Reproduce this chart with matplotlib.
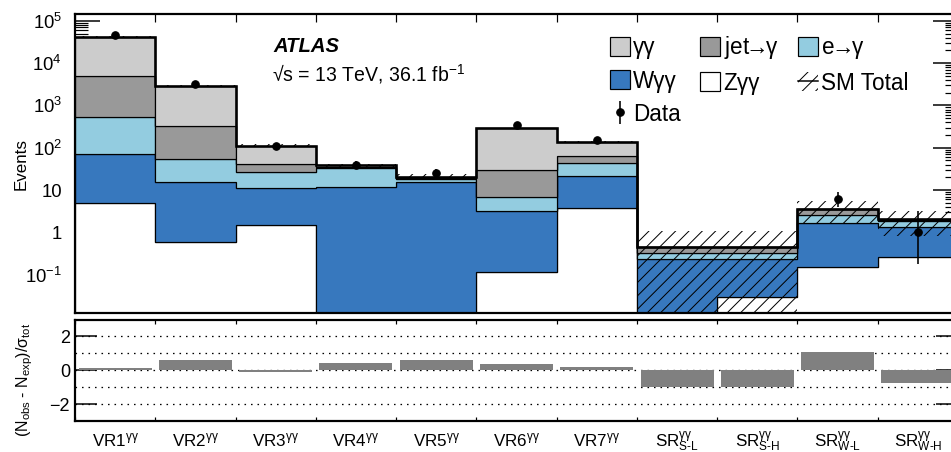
import numpy as np
import matplotlib
matplotlib.use("Agg")
import matplotlib.pyplot as plt
from matplotlib.patches import Patch
from matplotlib.lines import Line2D
from matplotlib.ticker import FixedLocator, FixedFormatter, LogLocator, NullFormatter

DPI = 80


def pt(px):
    # sizes below are measured in pixels on the reference
    return px * 72.0 / DPI


plt.rcParams['font.family'] = ['Liberation Sans', 'DejaVu Sans']
plt.rcParams['mathtext.fontset'] = 'custom'
plt.rcParams['mathtext.rm'] = 'Liberation Sans'
plt.rcParams['mathtext.it'] = 'Liberation Sans:italic'
plt.rcParams['mathtext.bf'] = 'Liberation Sans:bold'
plt.rcParams['hatch.linewidth'] = pt(1.0)

# regions (bins)
regions = ["VR1", "VR2", "VR3", "VR4", "VR5", "VR6", "VR7",
           "SR_S-L", "SR_S-H", "SR_W-L", "SR_W-H"]
region_labels = [r"VR1$^{\mathrm{γγ}}$", r"VR2$^{\mathrm{γγ}}$", r"VR3$^{\mathrm{γγ}}$",
                 r"VR4$^{\mathrm{γγ}}$", r"VR5$^{\mathrm{γγ}}$", r"VR6$^{\mathrm{γγ}}$",
                 r"VR7$^{\mathrm{γγ}}$",
                 r"SR$^{\mathrm{γγ}}_{\mathrm{S\text{-}L}}$", r"SR$^{\mathrm{γγ}}_{\mathrm{S\text{-}H}}$",
                 r"SR$^{\mathrm{γγ}}_{\mathrm{W\text{-}L}}$", r"SR$^{\mathrm{γγ}}_{\mathrm{W\text{-}H}}$"]

# background expectations, stacked bottom -> top
n_zgg = [4.9, 0.6, 1.5, 0.0, 0.0, 0.117, 3.7, 0.0, 0.029, 0.149, 0.26]
n_wgg = [66, 15.1, 9.5, 11.7, 15.2, 3.12, 17.7, 0.24, 0.211, 1.48, 1.10]
n_efake = [454, 38.3, 15, 20.8, 3.4, 3.66, 22.6, 0.08, 0.08, 0.94, 0.51]
n_jetfake = [4425, 272, 15, 2.0, 1.0, 22.7, 19, 0.137, 0.137, 0.93, 0.10]
n_gg = [37050, 2554, 71, 3.5, 1.0, 258, 75, 0.0, 0.0, 0.1, 0.05]
sm_err = [900, 90, 10, 3.5, 3.5, 10, 7, 0.6, 0.6, 2.0, 1.2]

# observed
n_data = [46000, 3200, 110, 40, 24.7, 338, 149, np.nan, np.nan, 6, 1]
data_err_lo = [214, 57, 10, 6.3, 5.0, 18, 12, 0, 0, 2.0, 0.82]
data_err_hi = [215, 58, 11, 7.3, 6.0, 19, 13, 0, 0, 3.1, 2.24]

# (Nobs - Nexp)/sigma_tot
signif = [0.12, 0.59, -0.12, 0.41, 0.63, 0.39, 0.20, -0.98, -0.98, 1.06, -0.76]

c_gg = '#cccccc'
c_jet = '#999999'
c_e = '#93cce0'
c_w = '#3778be'
c_z = 'white'

W, H = 951, 452
fig = plt.figure(figsize=(W / DPI, H / DPI), dpi=DPI)
ax = fig.add_axes([75 / W, 1 - 313 / H, 883 / W, 299 / H])
rax = fig.add_axes([75 / W, 1 - 421 / H, 883 / W, 101.5 / H])

edges = np.arange(len(regions) + 1)
centers = edges[:-1] + 0.5
floor = 1e-4

stack = [(n_zgg, c_z), (n_wgg, c_w), (n_efake, c_e), (n_jetfake, c_jet), (n_gg, c_gg)]
bottom = np.full(len(regions), floor)
for vals, col in stack:
    top = bottom + np.asarray(vals, dtype=float)
    ax.stairs(top, edges, baseline=bottom, fill=True, facecolor=col,
              edgecolor='black', linewidth=pt(1.2), zorder=2)
    bottom = top
total = bottom - floor

err = np.asarray(sm_err)
ax.stairs(total + err, edges, baseline=np.maximum(total - err, floor), fill=True,
          facecolor='none', edgecolor='black', hatch='//', linewidth=0, zorder=3)
ax.stairs(total, edges, baseline=None, color='black', linewidth=pt(2.6), zorder=4)

eb = ax.errorbar(centers, n_data, yerr=[data_err_lo, data_err_hi], fmt='o', color='black',
                 ms=pt(7.5), elinewidth=pt(1.6), capsize=0, zorder=5, label='Data')

ax.set_yscale('log')
ax.set_ylim(0.01236, 1.45e5)
ax.set_xlim(edges[0], edges[-1])
ax.yaxis.set_major_locator(FixedLocator([1e-1, 1, 10, 1e2, 1e3, 1e4, 1e5]))
ax.yaxis.set_major_formatter(FixedFormatter([r'$10^{-1}$', '1', '10', r'$10^{2}$',
                                             r'$10^{3}$', r'$10^{4}$', r'$10^{5}$']))
ax.yaxis.set_minor_locator(LogLocator(base=10, subs=np.arange(2, 10), numticks=30))
ax.yaxis.set_minor_formatter(NullFormatter())
ax.tick_params(axis='y', which='major', direction='in', length=pt(25), width=pt(1.5),
               left=True, right=True, labelsize=pt(18.5), pad=pt(13))
ax.tick_params(axis='y', which='minor', direction='in', length=pt(13), width=pt(1.2),
               left=True, right=True)
ax.set_xticks(edges)
ax.tick_params(axis='x', which='major', direction='in', length=pt(8), width=pt(1.2),
               top=True, bottom=True, labelbottom=False)
ax.set_ylabel('Events', fontsize=pt(17))
ax.yaxis.set_label_coords(-0.0527, 0.5)
for s in ax.spines.values():
    s.set_linewidth(pt(2.2))
    s.set_zorder(6)

ax.text(0.2242, 0.872, 'ATLAS', transform=ax.transAxes, fontsize=pt(20.3),
        fontweight='bold', fontstyle='italic', va='baseline')
ax.text(0.2231, 0.7736, '√s = 13 TeV, 36.1 fb$^{\\mathrm{-1}}$', transform=ax.transAxes,
        fontsize=pt(19.5), va='baseline')

h_gg = Patch(facecolor=c_gg, edgecolor='black', linewidth=pt(1.2))
h_jet = Patch(facecolor=c_jet, edgecolor='black', linewidth=pt(1.2))
h_e = Patch(facecolor=c_e, edgecolor='black', linewidth=pt(1.2))
h_w = Patch(facecolor=c_w, edgecolor='black', linewidth=pt(1.2))
h_z = Patch(facecolor=c_z, edgecolor='black', linewidth=pt(1.2))
h_sm = (Patch(facecolor='white', edgecolor='black', hatch='//', linewidth=0),
        Line2D([], [], color='black', linewidth=pt(1.5)))
handles = [h_gg, h_w, eb, h_jet, h_z, h_e, h_sm]
leg_labels = ['γγ', 'Wγγ', 'Data', r'jet$\!\!\rightarrow\!\!$γ', 'Zγγ',
              r'e$\!\!\rightarrow\!\!$γ', 'SM Total']
fs_leg = 22.5
fig.legend(handles=handles, labels=leg_labels, ncol=3,
           loc='upper left', bbox_to_anchor=(610 / W, 1 - 34 / H), frameon=False,
           fontsize=pt(fs_leg), borderpad=0, borderaxespad=0,
           handlelength=20 / fs_leg, handleheight=21 / fs_leg, handletextpad=0.15,
           columnspacing=0.85, labelspacing=0.47)

# lower panel
for y in [-2, -1, 0, 1, 2]:
    rax.axhline(y, color='black', linestyle=(0, (1.2, 3.8)), linewidth=pt(1.3), zorder=1)
rax.bar(centers, signif, width=0.91, color='#808080', zorder=3)
rax.set_xlim(edges[0], edges[-1])
rax.set_ylim(-3, 3)
rax.set_yticks([-2, 0, 2])
rax.tick_params(axis='y', direction='in', length=pt(22), width=pt(1.5), left=True,
                right=True, labelsize=pt(18), pad=pt(5))
rax.set_xticks(edges)
rax.set_xticklabels([])
rax.set_xticks(centers, minor=True)
rax.set_xticklabels(region_labels, minor=True)
rax.tick_params(axis='x', which='major', direction='in', length=pt(4), width=pt(1.2),
                top=True, bottom=True)
rax.tick_params(axis='x', which='minor', length=0, labelsize=pt(17), pad=pt(25.5))
for t in rax.get_xticklabels(minor=True):
    t.set_verticalalignment('baseline')
rax.set_ylabel(r'(N$_{\mathrm{obs}}$ - N$_{\mathrm{exp}}$)/σ$_{\mathrm{tot}}$', fontsize=pt(16))
rax.yaxis.set_label_coords(-0.0453, 0.404)
for s in rax.spines.values():
    s.set_linewidth(pt(2.2))
    s.set_zorder(6)

fig.savefig('out.png', dpi=DPI)
